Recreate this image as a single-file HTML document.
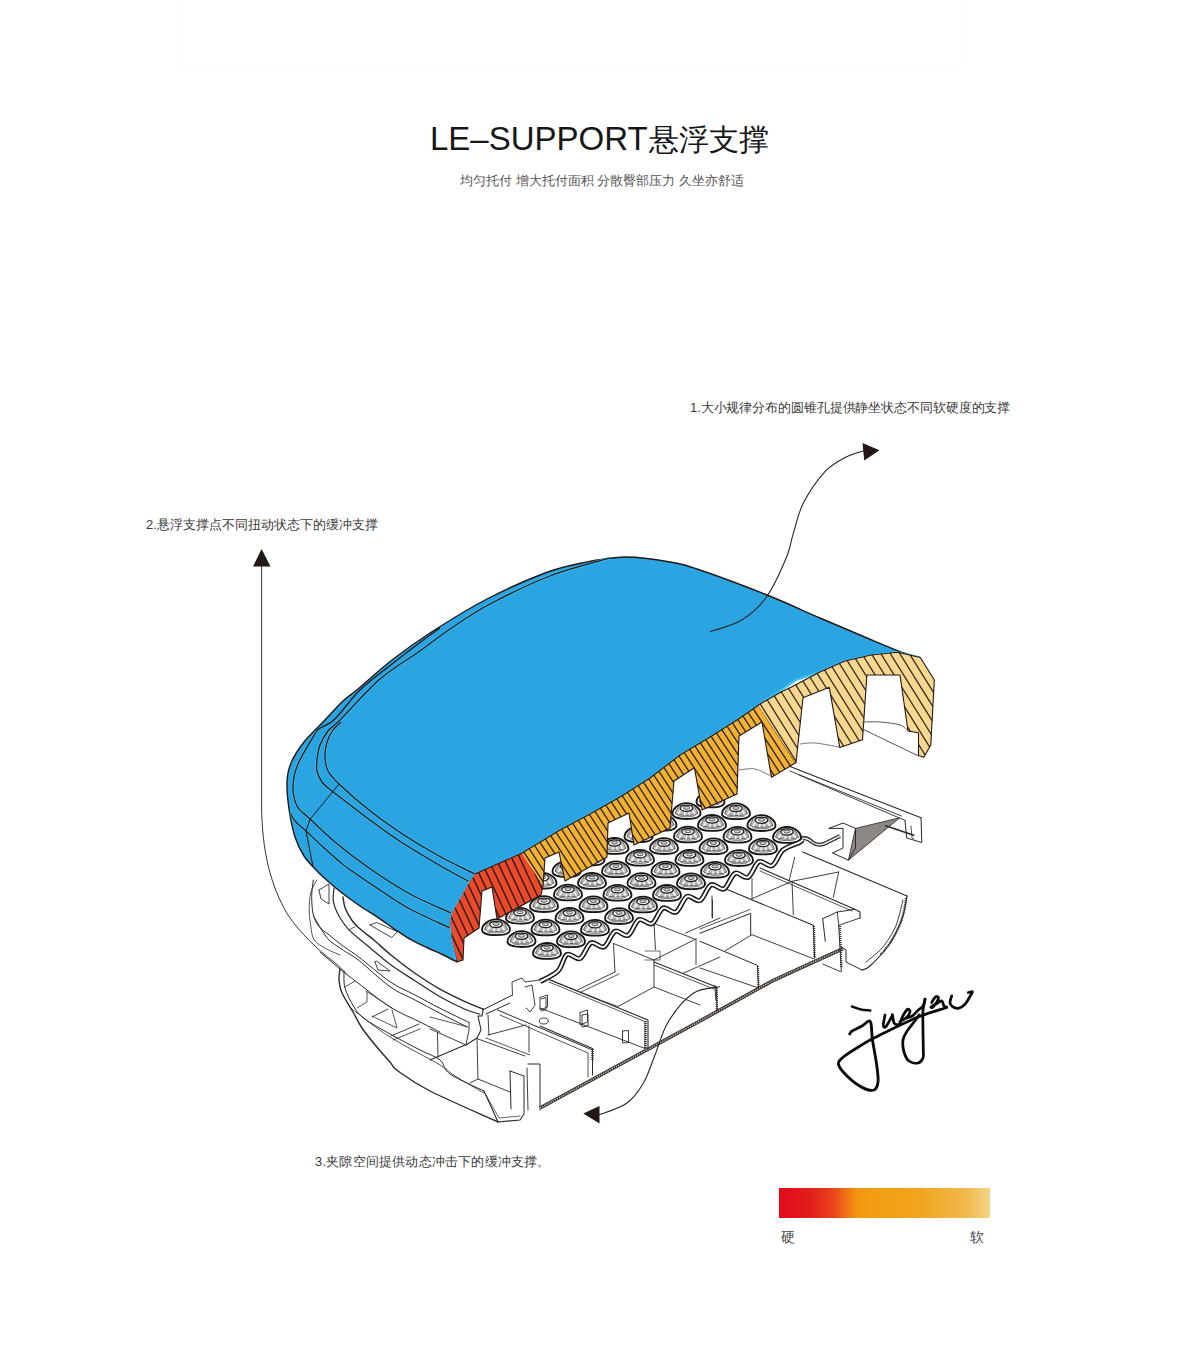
<!DOCTYPE html>
<html><head><meta charset="utf-8">
<style>
html,body{margin:0;padding:0;background:#fff;}
body{width:1200px;height:1358px;position:relative;overflow:hidden;font-family:"Liberation Sans",sans-serif;}
.t{position:absolute;white-space:nowrap;line-height:1;}
#topbox{position:absolute;left:180px;top:-2px;width:781px;height:66px;border:1px solid #fbfbfb;}
#title{left:430px;top:122px;font-size:33px;color:#161616;}
#sub{left:460px;top:174px;font-size:13px;color:#555;}
#a1{left:690px;top:401px;font-size:13px;letter-spacing:-0.1px;color:#3a3a3a;}
#a2{left:146px;top:518px;font-size:13px;color:#3a3a3a;}
#a3{left:315px;top:1155px;font-size:13px;letter-spacing:0.2px;color:#3a3a3a;}
#bar{position:absolute;left:779px;top:1188px;width:211px;height:30px;background:linear-gradient(to right,#e2091a 0%,#e41e1b 15%,#e8451a 26%,#ee7414 32%,#f2950f 37%,#f39c10 42%,#f1a41c 65%,#f0b84a 88%,#f4d586 100%);}
#hard{left:781px;top:1230px;font-size:14px;color:#444;}
#soft{left:970px;top:1230px;font-size:14px;color:#444;}
svg{position:absolute;left:0;top:0;}
</style></head><body>
<div id="topbox"></div>
<div class="t" id="title">LE–SUPPORT<span style="font-size:30px;position:relative;left:1px">悬浮支撑</span></div>
<div class="t" id="sub">均匀托付 增大托付面积 分散臀部压力 久坐亦舒适</div>
<div class="t" id="a1">1.大小规律分布的圆锥孔提供静坐状态不同软硬度的支撑</div>
<div class="t" id="a2">2.悬浮支撑点不同扭动状态下的缓冲支撑</div>
<div class="t" id="a3">3.夹隙空间提供动态冲击下的缓冲支撑。</div>
<div id="bar"></div>
<div class="t" id="hard">硬</div>
<div class="t" id="soft">软</div>
<svg width="1200" height="1358" viewBox="0 0 1200 1358">
<path d="M316.7,880.0 C315.7,882.1 312.1,887.6 310.8,892.5 C309.6,897.4 309.2,903.7 309.2,909.2 C309.2,914.8 310.0,920.7 310.8,925.8 C311.6,930.9 311.6,936.1 314.2,940.0 C316.8,943.9 322.4,946.5 326.7,949.0 C331.0,951.5 337.8,954.0 340.0,955.0" fill="none" stroke="#2f2826" stroke-width="0.8" stroke-linejoin="round" stroke-linecap="round" />
<path d="M343.0,897.0 C343.3,898.8 343.6,903.7 345.0,907.5 C346.4,911.3 349.5,916.7 351.7,920.0 C353.9,923.3 354.4,924.0 358.3,927.5 C362.2,931.0 369.6,936.4 375.0,941.0 C380.4,945.6 384.3,949.6 391.0,955.0 C397.7,960.4 406.8,967.6 415.0,973.3 C423.2,979.0 431.7,984.5 440.0,989.2 C448.3,993.9 457.8,998.4 465.0,1001.7 C472.2,1005.0 480.2,1008.0 483.3,1009.2" fill="none" stroke="#2f2826" stroke-width="1.4" stroke-linejoin="round" stroke-linecap="round" />
<path d="M334.0,888.0 C333.9,890.1 332.7,896.6 333.3,900.8 C333.9,905.0 335.0,908.6 337.5,913.3 C340.0,918.0 343.4,923.9 348.3,929.2 C353.2,934.5 359.8,939.2 366.7,945.0 C373.6,950.8 381.9,958.2 390.0,964.2 C398.1,970.2 406.7,975.4 415.0,980.8 C423.3,986.2 431.7,992.0 440.0,996.7 C448.3,1001.4 458.3,1006.3 465.0,1009.2 C471.7,1012.1 477.5,1013.4 480.0,1014.2" fill="none" stroke="#2f2826" stroke-width="1.2" stroke-linejoin="round" stroke-linecap="round" />
<path d="M313.3,880.0 C313.0,882.8 311.7,890.9 311.7,896.7 C311.7,902.5 312.1,910.0 313.3,915.0 C314.6,920.0 316.6,923.4 319.2,926.7 C321.8,930.0 325.4,932.0 329.2,935.0 C332.9,938.0 336.8,941.4 341.7,945.0 C346.6,948.6 350.2,950.6 358.3,956.7 C366.4,962.8 380.6,975.3 390.0,981.7 C399.4,988.1 406.7,990.6 415.0,995.0 C423.3,999.4 431.0,1003.7 440.0,1008.3 C449.0,1012.9 464.3,1020.1 469.2,1022.5" fill="none" stroke="#2f2826" stroke-width="1.0" stroke-linejoin="round" stroke-linecap="round" />
<path d="M314.0,917.0 C316.2,920.5 322.9,932.9 327.5,938.3 C332.1,943.7 336.6,945.6 341.7,949.2 C346.8,952.8 350.2,953.8 358.3,960.0 C366.4,966.2 380.6,980.0 390.0,986.7 C399.4,993.4 406.7,995.6 415.0,1000.0 C423.3,1004.4 431.4,1008.8 440.0,1013.3 C448.6,1017.8 462.2,1024.5 466.7,1026.7" fill="none" stroke="#2f2826" stroke-width="1.0" stroke-linejoin="round" stroke-linecap="round" />
<path d="M349.0,930.0 L355.0,926.7" fill="none" stroke="#2f2826" stroke-width="0.8" stroke-linejoin="round" stroke-linecap="round" />
<path d="M483.3,1009.2 L482.0,1016.0 L478.0,1016.0 L480.0,1025.0 L481.0,1030.0 L477.0,1038.0 L466.0,1045.0" fill="none" stroke="#2f2826" stroke-width="1.1" stroke-linejoin="round" stroke-linecap="round" />
<path d="M469.2,1022.5 L469.0,1030.0 L466.0,1045.0" fill="none" stroke="#2f2826" stroke-width="0.9" stroke-linejoin="round" stroke-linecap="round" />
<path d="M320.0,952.0 C323.3,954.8 333.7,963.8 340.0,969.0 C346.3,974.2 349.7,976.7 358.0,983.0 C366.3,989.3 379.7,1000.5 390.0,1007.0 C400.3,1013.5 411.7,1017.8 420.0,1022.0 C428.3,1026.2 436.7,1030.3 440.0,1032.0" fill="none" stroke="#2f2826" stroke-width="1.0" stroke-linejoin="round" stroke-linecap="round" />
<path d="M340.0,969.0 C339.8,970.8 338.7,976.0 339.0,980.0 C339.3,984.0 339.7,987.7 342.0,993.0 C344.3,998.3 349.7,1006.2 353.0,1012.0 C356.3,1017.8 358.2,1022.3 362.0,1028.0 C365.8,1033.7 371.3,1040.3 376.0,1046.0 C380.7,1051.7 386.3,1057.8 390.0,1062.0 C393.7,1066.2 391.3,1066.2 398.0,1071.0 C404.7,1075.8 413.3,1082.5 430.0,1091.0 C446.7,1099.5 486.7,1116.8 498.0,1122.0" fill="none" stroke="#2f2826" stroke-width="1.4" stroke-linejoin="round" stroke-linecap="round" />
<path d="M344.0,971.0 C344.2,973.8 343.3,982.0 345.0,988.0 C346.7,994.0 350.7,1001.8 354.0,1007.0 C357.3,1012.2 359.0,1014.5 365.0,1019.0 C371.0,1023.5 380.8,1028.8 390.0,1034.0 C399.2,1039.2 411.7,1045.7 420.0,1050.0 C428.3,1054.3 435.0,1056.0 440.0,1060.0 C445.0,1064.0 442.7,1068.8 450.0,1074.0 C457.3,1079.2 478.3,1088.2 484.0,1091.0" fill="none" stroke="#2f2826" stroke-width="1.0" stroke-linejoin="round" stroke-linecap="round" />
<path d="M352.0,1009.0 C358.3,1013.7 375.3,1027.7 390.0,1037.0 C404.7,1046.3 429.2,1058.5 440.0,1065.0 C450.8,1071.5 447.7,1071.3 455.0,1076.0 C462.3,1080.7 479.2,1090.2 484.0,1093.0" fill="none" stroke="#2f2826" stroke-width="0.8" stroke-linejoin="round" stroke-linecap="round" />
<path d="M484.0,1091.0 L498.0,1122.0 L520.0,1120.0 L524.0,1114.0" fill="none" stroke="#2f2826" stroke-width="1.1" stroke-linejoin="round" stroke-linecap="round" />
<path d="M486.0,1095.0 L499.0,1118.0 L520.0,1116.0" fill="none" stroke="#2f2826" stroke-width="0.7" stroke-linejoin="round" stroke-linecap="round" />
<path d="M319.0,890.0 L329.0,884.0 L329.0,904.0 L321.0,899.0 L319.0,890.0" fill="none" stroke="#2f2826" stroke-width="0.9" stroke-linejoin="round" stroke-linecap="round" />
<path d="M375.0,962.0 L376.5,961.0 L390.0,971.0 L378.0,970.0 L375.0,962.0" fill="none" stroke="#2f2826" stroke-width="0.9" stroke-linejoin="round" stroke-linecap="round" />
<path d="M370.0,925.0 L376.7,922.5 L397.5,931.7 L391.7,937.5 L370.0,925.0" fill="none" stroke="#2f2826" stroke-width="0.9" stroke-linejoin="round" stroke-linecap="round" />
<path d="M345.0,987.0 L355.0,981.0" fill="none" stroke="#2f2826" stroke-width="0.8" stroke-linejoin="round" stroke-linecap="round" />
<path d="M367.0,992.0 L367.0,1002.0 L357.0,1008.0" fill="none" stroke="#2f2826" stroke-width="0.8" stroke-linejoin="round" stroke-linecap="round" />
<path d="M366.0,991.0 L392.0,1008.0" fill="none" stroke="#2f2826" stroke-width="0.8" stroke-linejoin="round" stroke-linecap="round" />
<path d="M372.0,1017.0 L388.0,1009.0" fill="none" stroke="#2f2826" stroke-width="0.9" stroke-linejoin="round" stroke-linecap="round" />
<path d="M372.0,1016.0 L397.0,1028.0 L392.0,1010.0" fill="none" stroke="#2f2826" stroke-width="0.8" stroke-linejoin="round" stroke-linecap="round" />
<path d="M391.0,1036.0 L419.0,1024.0" fill="none" stroke="#2f2826" stroke-width="0.9" stroke-linejoin="round" stroke-linecap="round" />
<path d="M393.0,1040.0 L420.0,1029.0" fill="none" stroke="#2f2826" stroke-width="0.8" stroke-linejoin="round" stroke-linecap="round" />
<path d="M437.5,1033.0 L438.0,1057.0" fill="none" stroke="#2f2826" stroke-width="0.9" stroke-linejoin="round" stroke-linecap="round" />
<path d="M430.0,1060.0 L465.0,1045.0" fill="none" stroke="#2f2826" stroke-width="1.1" stroke-linejoin="round" stroke-linecap="round" />
<path d="M430.0,1029.0 L466.0,1045.0" fill="none" stroke="#2f2826" stroke-width="0.9" stroke-linejoin="round" stroke-linecap="round" />
<path d="M430.0,1017.0 L468.0,1027.0" fill="none" stroke="#2f2826" stroke-width="0.8" stroke-linejoin="round" stroke-linecap="round" />
<path d="M477.0,1038.0 L478.0,1079.0" fill="none" stroke="#2f2826" stroke-width="0.9" stroke-linejoin="round" stroke-linecap="round" />
<path d="M470.0,1083.0 L478.0,1079.0 L510.0,1092.0" fill="none" stroke="#2f2826" stroke-width="0.9" stroke-linejoin="round" stroke-linecap="round" />
<path d="M478.0,1039.0 L525.0,1056.0" fill="none" stroke="#2f2826" stroke-width="0.9" stroke-linejoin="round" stroke-linecap="round" />
<path d="M486.0,1038.0 L530.0,1055.0" fill="none" stroke="#2f2826" stroke-width="0.8" stroke-linejoin="round" stroke-linecap="round" />
<path d="M488.0,1035.0 L526.0,1025.0" fill="none" stroke="#2f2826" stroke-width="0.9" stroke-linejoin="round" stroke-linecap="round" />
<path d="M486.0,1014.0 L510.0,1003.0" fill="none" stroke="#2f2826" stroke-width="1.0" stroke-linejoin="round" stroke-linecap="round" />
<path d="M488.0,1015.0 L489.0,1035.0" fill="none" stroke="#2f2826" stroke-width="0.9" stroke-linejoin="round" stroke-linecap="round" />
<path d="M529.0,1026.0 L529.0,1052.0" fill="none" stroke="#2f2826" stroke-width="0.9" stroke-linejoin="round" stroke-linecap="round" />
<path d="M510.0,1071.0 L524.0,1076.0 L524.0,1113.0" fill="none" stroke="#2f2826" stroke-width="1.0" stroke-linejoin="round" stroke-linecap="round" />
<path d="M510.0,1071.0 L511.0,1109.0" fill="none" stroke="#2f2826" stroke-width="1.0" stroke-linejoin="round" stroke-linecap="round" />
<path d="M528.0,1064.0 L540.0,1064.0 L540.0,1110.0" fill="none" stroke="#2f2826" stroke-width="1.0" stroke-linejoin="round" stroke-linecap="round" />
<path d="M527.0,1068.0 L528.0,1110.0" fill="none" stroke="#2f2826" stroke-width="0.9" stroke-linejoin="round" stroke-linecap="round" />
<path d="M482.5,1010.0 L512.5,995.0" fill="none" stroke="#2f2826" stroke-width="1.0" stroke-linejoin="round" stroke-linecap="round" />
<path d="M497.5,1010.0 L592.5,1050.0 L592.5,1075.0" fill="none" stroke="#2f2826" stroke-width="1.0" stroke-linejoin="round" stroke-linecap="round" />
<path d="M500.0,1015.0 L588.0,1053.0 L588.0,1077.0" fill="none" stroke="#2f2826" stroke-width="0.8" stroke-linejoin="round" stroke-linecap="round" />
<path d="M540.0,980.0 L525.0,982.0 L522.0,978.0 L512.0,982.0 L512.5,995.0" fill="none" stroke="#2f2826" stroke-width="0.9" stroke-linejoin="round" stroke-linecap="round" />
<path d="M525.0,987.0 L532.0,985.0 L535.0,1005.0 L530.0,1012.0 L526.0,1008.0" fill="none" stroke="#2f2826" stroke-width="0.9" stroke-linejoin="round" stroke-linecap="round" />
<path d="M540.0,997.5 L547.5,995.0 L547.5,1007.0 L540.0,1010.0 L540.0,997.5" fill="none" stroke="#2f2826" stroke-width="0.9" stroke-linejoin="round" stroke-linecap="round" />
<path d="M580.0,1012.5 L587.5,1010.0 L587.5,1022.0 L580.0,1025.0 L580.0,1012.5" fill="none" stroke="#2f2826" stroke-width="0.9" stroke-linejoin="round" stroke-linecap="round" />
<ellipse cx="543.75" cy="1021" rx="4.5" ry="3" fill="none" stroke="#2f2826" stroke-width="0.9"/>
<path d="M550.0,980.0 L600.0,1000.0" fill="none" stroke="#2f2826" stroke-width="0.9" stroke-linejoin="round" stroke-linecap="round" />
<path d="M540,1108 L700,1021 L774,980 L843,948.6" fill="none" stroke="#3b3431" stroke-width="3.6"/>
<path d="M540,1108 L700,1021 L774,980 L843,948.6" fill="none" stroke="#cfcac7" stroke-width="1.4" stroke-dasharray="1.2 1.2"/>
<path d="M549.0,979.5 L648.0,1020.0 L648.0,1048.5" fill="none" stroke="#2f2826" stroke-width="1.1" stroke-linejoin="round" stroke-linecap="round" />
<path d="M549.0,982.0 L645.0,1021.5 L645.0,1048.5" fill="none" stroke="#2f2826" stroke-width="0.8" stroke-linejoin="round" stroke-linecap="round" />
<path d="M645.5,1021 L645.5,1048" stroke="#3b3431" stroke-width="2.6" stroke-dasharray="1 1" fill="none"/>
<path d="M541.5,999.0 L546.0,997.5 L546.0,1009.5 L541.5,1011.0" fill="none" stroke="#2f2826" stroke-width="0.9" stroke-linejoin="round" stroke-linecap="round" />
<path d="M582.0,1015.0 L588.0,1014.0 L588.0,1026.0 L582.0,1027.0 L582.0,1015.0" fill="none" stroke="#2f2826" stroke-width="0.9" stroke-linejoin="round" stroke-linecap="round" />
<path d="M622.5,1031.0 L628.5,1030.5 L628.5,1042.5 L622.5,1043.0 L622.5,1031.0" fill="none" stroke="#2f2826" stroke-width="0.9" stroke-linejoin="round" stroke-linecap="round" />
<path d="M540.0,1008.0 L645.0,1048.5" fill="none" stroke="#2f2826" stroke-width="0.9" stroke-linejoin="round" stroke-linecap="round" />
<path d="M540.0,1026.0 L592.5,1048.5 L592.5,1059.0" fill="none" stroke="#2f2826" stroke-width="1.1" stroke-linejoin="round" stroke-linecap="round" />
<path d="M592.5,1049 L592.5,1060" stroke="#3b3431" stroke-width="2.6" stroke-dasharray="1 1" fill="none"/>
<path d="M577.5,990.0 L615.0,972.0" fill="none" stroke="#2f2826" stroke-width="0.9" stroke-linejoin="round" stroke-linecap="round" />
<path d="M581.0,992.0 L619.0,974.0" fill="none" stroke="#2f2826" stroke-width="0.8" stroke-linejoin="round" stroke-linecap="round" />
<path d="M615.0,972.0 L613.5,943.5" fill="none" stroke="#2f2826" stroke-width="0.9" stroke-linejoin="round" stroke-linecap="round" />
<path d="M613.5,943.5 L654.0,960.0 L654.0,987.0 L618.0,1006.5" fill="none" stroke="#2f2826" stroke-width="0.9" stroke-linejoin="round" stroke-linecap="round" />
<path d="M654.0,987.0 L700.0,1005.0" fill="none" stroke="#2f2826" stroke-width="0.9" stroke-linejoin="round" stroke-linecap="round" />
<path d="M654.0,960.0 L696.0,939.0" fill="none" stroke="#2f2826" stroke-width="0.9" stroke-linejoin="round" stroke-linecap="round" />
<path d="M654.0,962.0 L716.5,987.0 L717.0,1011.0" fill="none" stroke="#2f2826" stroke-width="1.1" stroke-linejoin="round" stroke-linecap="round" />
<path d="M654.0,965.0 L714.0,989.0" fill="none" stroke="#2f2826" stroke-width="0.8" stroke-linejoin="round" stroke-linecap="round" />
<path d="M716.5,988 L717,1011" stroke="#3b3431" stroke-width="2.4" stroke-dasharray="1 1" fill="none"/>
<path d="M654.0,924.0 L655.5,949.5" fill="none" stroke="#2f2826" stroke-width="0.9" stroke-linejoin="round" stroke-linecap="round" />
<path d="M655.5,924.0 L694.5,939.0" fill="none" stroke="#2f2826" stroke-width="0.9" stroke-linejoin="round" stroke-linecap="round" />
<path d="M696.0,939.0 L696.0,964.5" fill="none" stroke="#2f2826" stroke-width="0.9" stroke-linejoin="round" stroke-linecap="round" />
<path d="M682.5,973.5 L720.0,957.0" fill="none" stroke="#2f2826" stroke-width="0.9" stroke-linejoin="round" stroke-linecap="round" />
<path d="M685.5,933.0 L720.0,918.0" fill="none" stroke="#2f2826" stroke-width="0.9" stroke-linejoin="round" stroke-linecap="round" />
<path d="M712.5,900.0 L712.5,918.0" fill="none" stroke="#2f2826" stroke-width="0.9" stroke-linejoin="round" stroke-linecap="round" />
<path d="M645.0,951.0 L660.0,951.0 L660.0,960.0 L645.0,960.0" fill="none" stroke="#2f2826" stroke-width="0.7" stroke-linejoin="round" stroke-linecap="round" />
<path d="M600.0,1000.0 L618.0,1006.5" fill="none" stroke="#2f2826" stroke-width="0.8" stroke-linejoin="round" stroke-linecap="round" />
<path d="M802.7,852.0 L907.0,896.0" fill="none" stroke="#2f2826" stroke-width="1.2" stroke-linejoin="round" stroke-linecap="round" />
<path d="M907.0,896.0 C906.5,898.7 905.2,907.3 904.0,912.0 C902.8,916.7 902.7,918.3 900.0,924.0 C897.3,929.7 893.0,939.0 888.0,946.0 C883.0,953.0 874.3,962.0 870.0,966.0 C865.7,970.0 863.3,969.3 862.0,970.0" fill="none" stroke="#2f2826" stroke-width="1.2" stroke-linejoin="round" stroke-linecap="round" />
<path d="M903.0,900.0 C902.3,902.7 900.5,911.0 899.0,916.0 C897.5,921.0 896.8,924.7 894.0,930.0 C891.2,935.3 886.7,942.7 882.0,948.0 C877.3,953.3 868.7,959.7 866.0,962.0" fill="none" stroke="#2f2826" stroke-width="0.9" stroke-linejoin="round" stroke-linecap="round" />
<path d="M906,898 C904,920 895,940 880,955" stroke="#3b3431" stroke-width="2.4" stroke-dasharray="1 1" fill="none"/>
<path d="M862.0,970.0 L846.0,962.0 L846.0,950.0 L841.3,946.7" fill="none" stroke="#2f2826" stroke-width="1.0" stroke-linejoin="round" stroke-linecap="round" />
<path d="M760.0,868.0 L854.7,909.3 L860.0,912.0 L860.0,918.0" fill="none" stroke="#2f2826" stroke-width="1.1" stroke-linejoin="round" stroke-linecap="round" />
<path d="M760.0,871.0 L852.0,911.0" fill="none" stroke="#2f2826" stroke-width="0.8" stroke-linejoin="round" stroke-linecap="round" />
<path d="M726.7,889.3 L813.3,925.3 L814.7,958.7" fill="none" stroke="#2f2826" stroke-width="1.1" stroke-linejoin="round" stroke-linecap="round" />
<path d="M814,926 L814.5,958" stroke="#3b3431" stroke-width="2.4" stroke-dasharray="1 1" fill="none"/>
<path d="M712.0,896.0 L712.0,917.3" fill="none" stroke="#2f2826" stroke-width="0.9" stroke-linejoin="round" stroke-linecap="round" />
<path d="M752.0,878.7 L752.0,898.7" fill="none" stroke="#2f2826" stroke-width="0.9" stroke-linejoin="round" stroke-linecap="round" />
<path d="M794.7,857.3 L789.3,880.0" fill="none" stroke="#2f2826" stroke-width="0.9" stroke-linejoin="round" stroke-linecap="round" />
<path d="M792.0,881.3 L793.3,914.7" fill="none" stroke="#2f2826" stroke-width="0.9" stroke-linejoin="round" stroke-linecap="round" />
<path d="M838.7,872.0 L833.3,897.3" fill="none" stroke="#2f2826" stroke-width="0.9" stroke-linejoin="round" stroke-linecap="round" />
<path d="M752.0,898.7 L792.0,881.3 L838.7,872.0" fill="none" stroke="#2f2826" stroke-width="0.9" stroke-linejoin="round" stroke-linecap="round" />
<path d="M700.0,933.3 L750.7,913.3 L750.7,934.7" fill="none" stroke="#2f2826" stroke-width="1.0" stroke-linejoin="round" stroke-linecap="round" />
<path d="M700.0,929.0 L750.0,909.5" fill="none" stroke="#2f2826" stroke-width="0.8" stroke-linejoin="round" stroke-linecap="round" />
<path d="M725.3,950.7 L752.0,934.7 L813.3,958.7" fill="none" stroke="#2f2826" stroke-width="0.9" stroke-linejoin="round" stroke-linecap="round" />
<path d="M700.0,941.3 L757.3,965.3 L758.7,988.0" fill="none" stroke="#2f2826" stroke-width="1.0" stroke-linejoin="round" stroke-linecap="round" />
<path d="M758,966 L758.5,988" stroke="#3b3431" stroke-width="2.2" stroke-dasharray="1 1" fill="none"/>
<path d="M700.0,968.0 L758.7,988.0" fill="none" stroke="#2f2826" stroke-width="0.9" stroke-linejoin="round" stroke-linecap="round" />
<path d="M822.7,918.7 L837.3,912.0 L854.7,909.3" fill="none" stroke="#2f2826" stroke-width="1.0" stroke-linejoin="round" stroke-linecap="round" />
<path d="M822.7,918.7 L825.3,941.3" fill="none" stroke="#2f2826" stroke-width="1.0" stroke-linejoin="round" stroke-linecap="round" />
<path d="M838.7,925.3 L841.3,970.7" fill="none" stroke="#2f2826" stroke-width="1.0" stroke-linejoin="round" stroke-linecap="round" />
<path d="M840,926 L841.5,968" stroke="#3b3431" stroke-width="2.2" stroke-dasharray="1 1" fill="none"/>
<path d="M837.3,912.0 L838.7,925.3 L860.0,918.0" fill="none" stroke="#2f2826" stroke-width="0.9" stroke-linejoin="round" stroke-linecap="round" />
<path d="M822.7,964.0 L841.3,972.0" fill="none" stroke="#2f2826" stroke-width="0.9" stroke-linejoin="round" stroke-linecap="round" />
<path d="M714.7,985.3 L716.0,1000.0" fill="none" stroke="#2f2826" stroke-width="0.9" stroke-linejoin="round" stroke-linecap="round" />
<path d="M790.0,766.5 L921.0,817.8" fill="none" stroke="#2f2826" stroke-width="1.2" stroke-linejoin="round" stroke-linecap="round" />
<path d="M790.0,771.0 L901.4,816.0" fill="none" stroke="#2f2826" stroke-width="0.9" stroke-linejoin="round" stroke-linecap="round" />
<path d="M799.0,775.0 L905.0,820.4" fill="none" stroke="#2f2826" stroke-width="0.9" stroke-linejoin="round" stroke-linecap="round" />
<path d="M921.0,817.8 L921.8,842.5 L906.7,838.0 L905.0,820.4" fill="none" stroke="#2f2826" stroke-width="1.0" stroke-linejoin="round" stroke-linecap="round" />
<path d="M911.0,826.0 L912.0,838.0 L914.0,839.0" fill="none" stroke="#2f2826" stroke-width="0.8" stroke-linejoin="round" stroke-linecap="round" />
<path d="M855.5,828.4 L899.7,817.8 L848.4,860.2Z" fill="#8d8886" stroke="#3b3431" stroke-width="0.9"/>
<path d="M829.0,828.4 L843.0,823.0 L855.5,828.4 L855.5,848.0 L848.4,860.2 L832.5,853.0 L843.0,848.0 L843.0,828.4 L829.0,828.4" fill="none" stroke="#2f2826" stroke-width="1.0" stroke-linejoin="round" stroke-linecap="round" />
<path d="M885.7,825.8 L913.7,835.2" fill="none" stroke="#2f2826" stroke-width="1.6" stroke-linejoin="round" stroke-linecap="round" />
<path d="M795,843 C800,838 806,836 812,842 C816,845 820,846 826,843 L840,836" fill="none" stroke="#2f2826" stroke-width="4" stroke-linejoin="round"/>
<path d="M795,843 C800,838 806,836 812,842 C816,845 820,846 826,843 L840,836" fill="none" stroke="#e8e6e5" stroke-width="1.5" stroke-linejoin="round"/>
<defs><g id="dm"><path d="M-14,2.8 C-14,6.6 -7.5,8.2 0,8.2 C7.5,8.2 14,6.6 14,2.8 C14,-1.5 8.5,-7.6 0,-7.6 C-8.5,-7.6 -14,-1.5 -14,2.8Z" fill="#fff" stroke="#1a1614" stroke-width="1.8"/><path d="M-11.5,2.6 C-10,-1 -8,-4.8 -6.5,-5.3 L6.5,-5.3 C8,-4.8 10,-1 11.5,2.6 C8,5.2 -8,5.2 -11.5,2.6Z" fill="#bdb9b6" stroke="#3a3533" stroke-width="0.8"/><path d="M-8.5,3.6 L-4.5,-3 M8.5,3.6 L4.5,-3 M-2,4.6 L-1,-1.5 M3,4.4 L2,-1.5" stroke="#f8f8f8" stroke-width="1.5"/><path d="M-9,4.8 C-4,6.4 4,6.4 9,4.8" fill="none" stroke="#555" stroke-width="0.8"/><ellipse cx="0" cy="-2.6" rx="6.2" ry="3.1" fill="#fff" stroke="#1e1a18" stroke-width="1.3"/><ellipse cx="0" cy="-3" rx="3.2" ry="1.5" fill="#cfcfcf" stroke="#333" stroke-width="0.8"/></g></defs>
<use href="#dm" x="710.5" y="799.2"/>
<use href="#dm" x="686.5" y="810.8"/>
<use href="#dm" x="736.0" y="811.0"/>
<use href="#dm" x="662.5" y="822.4"/>
<use href="#dm" x="712.0" y="822.6"/>
<use href="#dm" x="761.5" y="822.8"/>
<use href="#dm" x="638.5" y="834.0"/>
<use href="#dm" x="688.0" y="834.2"/>
<use href="#dm" x="737.5" y="834.4"/>
<use href="#dm" x="787.0" y="834.6"/>
<use href="#dm" x="614.5" y="845.6"/>
<use href="#dm" x="664.0" y="845.8"/>
<use href="#dm" x="713.5" y="846.0"/>
<use href="#dm" x="763.0" y="846.2"/>
<use href="#dm" x="590.5" y="857.2"/>
<use href="#dm" x="640.0" y="857.4"/>
<use href="#dm" x="689.5" y="857.6"/>
<use href="#dm" x="739.0" y="857.8"/>
<use href="#dm" x="566.5" y="868.8"/>
<use href="#dm" x="616.0" y="869.0"/>
<use href="#dm" x="665.5" y="869.2"/>
<use href="#dm" x="715.0" y="869.4"/>
<use href="#dm" x="542.5" y="880.4"/>
<use href="#dm" x="592.0" y="880.6"/>
<use href="#dm" x="641.5" y="880.8"/>
<use href="#dm" x="691.0" y="881.0"/>
<use href="#dm" x="518.5" y="892.0"/>
<use href="#dm" x="568.0" y="892.2"/>
<use href="#dm" x="617.5" y="892.4"/>
<use href="#dm" x="667.0" y="892.6"/>
<use href="#dm" x="544.0" y="903.8"/>
<use href="#dm" x="593.5" y="904.0"/>
<use href="#dm" x="643.0" y="904.2"/>
<use href="#dm" x="520.0" y="915.4"/>
<use href="#dm" x="569.5" y="915.6"/>
<use href="#dm" x="619.0" y="915.8"/>
<use href="#dm" x="496.0" y="927.0"/>
<use href="#dm" x="545.5" y="927.2"/>
<use href="#dm" x="595.0" y="927.4"/>
<use href="#dm" x="521.5" y="938.8"/>
<use href="#dm" x="571.0" y="939.0"/>
<use href="#dm" x="547.0" y="950.6"/>
<path d="M540.0,981.5 C543.0,979.8 553.5,975.5 558.0,971.0 C562.5,966.5 563.3,956.6 567.0,954.5 C570.7,952.4 576.0,960.4 580.0,958.5 C584.0,956.6 587.0,944.8 591.0,942.9 C595.0,941.0 600.0,948.8 604.0,946.9 C608.0,945.0 611.0,933.2 615.0,931.3 C619.0,929.4 624.0,937.2 628.0,935.3 C632.0,933.4 635.0,921.6 639.0,919.7 C643.0,917.8 648.0,925.6 652.0,923.7 C656.0,921.8 659.0,910.0 663.0,908.1 C667.0,906.2 672.0,914.0 676.0,912.1 C680.0,910.2 683.0,898.4 687.0,896.5 C691.0,894.6 696.0,902.4 700.0,900.5 C704.0,898.6 707.0,886.8 711.0,884.9 C715.0,883.0 720.0,890.8 724.0,888.9 C728.0,887.0 731.0,875.2 735.0,873.3 C739.0,871.4 744.0,879.2 748.0,877.3 C752.0,875.4 755.0,863.6 759.0,861.7 C763.0,859.8 768.0,867.6 772.0,865.7 C776.0,863.8 778.5,853.9 783.0,850.1 C787.5,846.2 795.7,844.3 799.0,842.6 C802.3,840.8 802.3,840.1 803.0,839.6" fill="none" stroke="#1e1a18" stroke-width="5.2" stroke-linejoin="round"/>
<path d="M540.0,981.5 C543.0,979.8 553.5,975.5 558.0,971.0 C562.5,966.5 563.3,956.6 567.0,954.5 C570.7,952.4 576.0,960.4 580.0,958.5 C584.0,956.6 587.0,944.8 591.0,942.9 C595.0,941.0 600.0,948.8 604.0,946.9 C608.0,945.0 611.0,933.2 615.0,931.3 C619.0,929.4 624.0,937.2 628.0,935.3 C632.0,933.4 635.0,921.6 639.0,919.7 C643.0,917.8 648.0,925.6 652.0,923.7 C656.0,921.8 659.0,910.0 663.0,908.1 C667.0,906.2 672.0,914.0 676.0,912.1 C680.0,910.2 683.0,898.4 687.0,896.5 C691.0,894.6 696.0,902.4 700.0,900.5 C704.0,898.6 707.0,886.8 711.0,884.9 C715.0,883.0 720.0,890.8 724.0,888.9 C728.0,887.0 731.0,875.2 735.0,873.3 C739.0,871.4 744.0,879.2 748.0,877.3 C752.0,875.4 755.0,863.6 759.0,861.7 C763.0,859.8 768.0,867.6 772.0,865.7 C776.0,863.8 778.5,853.9 783.0,850.1 C787.5,846.2 795.7,844.3 799.0,842.6 C802.3,840.8 802.3,840.1 803.0,839.6" fill="none" stroke="#fff" stroke-width="2" stroke-linejoin="round"/>
<path d="M457.0,962.0 C454.7,960.8 448.4,957.4 443.3,955.0 C438.2,952.6 432.2,950.1 426.7,947.5 C421.1,944.9 415.6,942.4 410.0,939.2 C404.4,936.0 398.9,932.0 393.3,928.3 C387.8,924.5 382.2,920.4 376.7,916.7 C371.1,913.0 365.8,910.0 360.0,906.0 C354.2,902.0 347.0,896.8 342.0,893.0 C337.0,889.2 334.2,886.7 330.0,883.0 C325.8,879.3 321.3,875.5 317.0,871.0 C312.7,866.5 307.7,861.7 304.0,856.0 C300.3,850.3 297.5,844.8 295.0,837.0 C292.5,829.2 290.3,818.2 289.0,809.0 C287.7,799.8 286.7,789.7 287.0,782.0 C287.3,774.3 288.2,769.7 291.0,763.0 C293.8,756.3 298.5,749.0 304.0,742.0 C309.5,735.0 317.5,727.8 324.0,721.0 C330.5,714.2 337.3,706.3 343.0,701.0 C348.7,695.7 349.8,695.8 358.0,689.0 C366.2,682.2 380.0,669.3 392.0,660.0 C404.0,650.7 414.2,643.2 430.0,633.0 C445.8,622.8 467.8,609.0 487.0,599.0 C506.2,589.0 529.2,579.0 545.0,573.0 C560.8,567.0 568.7,565.7 582.0,563.0 C595.3,560.3 610.3,557.2 625.0,557.0 C639.7,556.8 657.5,559.8 670.0,562.0 C682.5,564.2 683.8,564.5 700.0,570.0 C716.2,575.5 747.0,587.0 767.0,595.0 C787.0,603.0 803.3,610.8 820.0,618.0 C836.7,625.2 853.0,632.2 867.0,638.0 C881.0,643.8 895.2,649.8 904.0,653.0 C912.8,656.2 917.3,656.8 920.0,657.5 L897.5,652.3 L871.3,655.0 L845.0,661.0 L818.8,672.4 L796.0,680.0 L780.0,691.0 L760.0,704.0 L740.0,718.0 L710.0,737.0 L680.0,755.0 L650.0,778.0 L620.0,797.0 L590.0,814.0 L560.0,830.0 L522.0,853.0 L474.8,874.0 L469.0,881.5 L451.3,913.0 L449.8,921.0 L451.3,940.0 L457.0,962.0Z" fill="#2ba5e1" stroke="none"/>
<path d="M457.0,962.0 C454.7,960.8 448.4,957.4 443.3,955.0 C438.2,952.6 432.2,950.1 426.7,947.5 C421.1,944.9 415.6,942.4 410.0,939.2 C404.4,936.0 398.9,932.0 393.3,928.3 C387.8,924.5 382.2,920.4 376.7,916.7 C371.1,913.0 365.8,910.0 360.0,906.0 C354.2,902.0 347.0,896.8 342.0,893.0 C337.0,889.2 334.2,886.7 330.0,883.0 C325.8,879.3 321.3,875.5 317.0,871.0 C312.7,866.5 307.7,861.7 304.0,856.0 C300.3,850.3 297.5,844.8 295.0,837.0 C292.5,829.2 290.3,818.2 289.0,809.0 C287.7,799.8 286.7,789.7 287.0,782.0 C287.3,774.3 288.2,769.7 291.0,763.0 C293.8,756.3 298.5,749.0 304.0,742.0 C309.5,735.0 317.5,727.8 324.0,721.0 C330.5,714.2 337.3,706.3 343.0,701.0 C348.7,695.7 349.8,695.8 358.0,689.0 C366.2,682.2 380.0,669.3 392.0,660.0 C404.0,650.7 414.2,643.2 430.0,633.0 C445.8,622.8 467.8,609.0 487.0,599.0 C506.2,589.0 529.2,579.0 545.0,573.0 C560.8,567.0 568.7,565.7 582.0,563.0 C595.3,560.3 610.3,557.2 625.0,557.0 C639.7,556.8 657.5,559.8 670.0,562.0 C682.5,564.2 683.8,564.5 700.0,570.0 C716.2,575.5 747.0,587.0 767.0,595.0 C787.0,603.0 803.3,610.8 820.0,618.0 C836.7,625.2 853.0,632.2 867.0,638.0 C881.0,643.8 895.2,649.8 904.0,653.0 C912.8,656.2 917.3,656.8 920.0,657.5" fill="none" stroke="#231815" stroke-width="1.4"/>
<path d="M920.0,657.5 L897.5,652.3 L871.3,655.0 L845.0,661.0 L818.8,672.4 L796.0,680.0 L780.0,691.0 L760.0,704.0 L740.0,718.0 L710.0,737.0 L680.0,755.0 L650.0,778.0 L620.0,797.0 L590.0,814.0 L560.0,830.0 L522.0,853.0 L474.8,874.0" fill="none" stroke="#45c4f5" stroke-width="2.2"/>
<path d="M440.0,628.0 C436.3,630.7 426.0,638.0 418.0,644.0 C410.0,650.0 401.7,656.3 392.0,664.0 C382.3,671.7 369.5,680.8 360.0,690.0 C350.5,699.2 341.3,712.8 335.0,719.0 C328.7,725.2 325.2,725.0 322.0,727.0 C318.8,729.0 317.0,730.3 316.0,731.0" fill="none" stroke="#231815" stroke-width="1.3"/>
<path d="M610.0,558.0 C600.0,561.0 570.0,568.3 550.0,576.0 C530.0,583.7 506.7,595.2 490.0,604.0 C473.3,612.8 461.7,621.2 450.0,629.0 C438.3,636.8 431.7,642.7 420.0,651.0 C408.3,659.3 393.3,667.5 380.0,679.0 C366.7,690.5 348.7,711.3 340.0,720.0 C331.3,728.7 331.3,726.8 328.0,731.0 C324.7,735.2 321.8,740.2 320.0,745.0 C318.2,749.8 317.5,755.7 317.0,760.0 C316.5,764.3 316.2,767.3 317.0,771.0 C317.8,774.7 319.5,778.7 322.0,782.0 C324.5,785.3 325.3,785.7 332.0,791.0 C338.7,796.3 351.0,805.8 362.0,814.0 C373.0,822.2 385.2,831.5 398.0,840.0 C410.8,848.5 427.2,858.1 439.0,865.0 C450.8,871.9 464.0,878.8 469.0,881.5" fill="none" stroke="#47c6f7" stroke-width="2.6" opacity="0.8"/>
<path d="M610.0,558.0 C600.0,561.0 570.0,568.3 550.0,576.0 C530.0,583.7 506.7,595.2 490.0,604.0 C473.3,612.8 461.7,621.2 450.0,629.0 C438.3,636.8 431.7,642.7 420.0,651.0 C408.3,659.3 393.3,667.5 380.0,679.0 C366.7,690.5 348.7,711.3 340.0,720.0 C331.3,728.7 331.3,726.8 328.0,731.0 C324.7,735.2 321.8,740.2 320.0,745.0 C318.2,749.8 317.5,755.7 317.0,760.0 C316.5,764.3 316.2,767.3 317.0,771.0 C317.8,774.7 319.5,778.7 322.0,782.0 C324.5,785.3 325.3,785.7 332.0,791.0 C338.7,796.3 351.0,805.8 362.0,814.0 C373.0,822.2 385.2,831.5 398.0,840.0 C410.8,848.5 427.2,858.1 439.0,865.0 C450.8,871.9 464.0,878.8 469.0,881.5" fill="none" stroke="#231815" stroke-width="1.3"/>
<path d="M341.0,722.0 C339.7,723.3 335.3,726.7 333.0,730.0 C330.7,733.3 328.3,737.5 327.0,742.0 C325.7,746.5 324.8,752.2 325.0,757.0 C325.2,761.8 325.7,766.5 328.0,771.0 C330.3,775.5 332.2,777.5 339.0,784.0 C345.8,790.5 358.2,801.5 369.0,810.0 C379.8,818.5 392.3,827.3 404.0,835.0 C415.7,842.7 427.2,849.5 439.0,856.0 C450.8,862.5 468.8,871.0 474.8,874.0" fill="none" stroke="#47c6f7" stroke-width="2.6" opacity="0.8"/>
<path d="M341.0,722.0 C339.7,723.3 335.3,726.7 333.0,730.0 C330.7,733.3 328.3,737.5 327.0,742.0 C325.7,746.5 324.8,752.2 325.0,757.0 C325.2,761.8 325.7,766.5 328.0,771.0 C330.3,775.5 332.2,777.5 339.0,784.0 C345.8,790.5 358.2,801.5 369.0,810.0 C379.8,818.5 392.3,827.3 404.0,835.0 C415.7,842.7 427.2,849.5 439.0,856.0 C450.8,862.5 468.8,871.0 474.8,874.0" fill="none" stroke="#231815" stroke-width="1.3"/>
<path d="M317.0,730.5 C313.8,736.1 302.0,754.8 298.0,764.0 C294.0,773.2 293.2,779.0 293.0,786.0 C292.8,793.0 294.2,800.5 297.0,806.0 C299.8,811.5 303.7,813.0 310.0,819.0 C316.3,825.0 325.2,833.8 335.0,842.0 C344.8,850.2 356.5,859.3 369.0,868.0 C381.5,876.7 396.3,886.5 410.0,894.0 C423.7,901.5 444.2,909.8 451.0,913.0" fill="none" stroke="#47c6f7" stroke-width="2.6" opacity="0.8"/>
<path d="M317.0,730.5 C313.8,736.1 302.0,754.8 298.0,764.0 C294.0,773.2 293.2,779.0 293.0,786.0 C292.8,793.0 294.2,800.5 297.0,806.0 C299.8,811.5 303.7,813.0 310.0,819.0 C316.3,825.0 325.2,833.8 335.0,842.0 C344.8,850.2 356.5,859.3 369.0,868.0 C381.5,876.7 396.3,886.5 410.0,894.0 C423.7,901.5 444.2,909.8 451.0,913.0" fill="none" stroke="#231815" stroke-width="1.3"/>
<path d="M290.0,813.0 C291.0,814.5 293.3,819.0 296.0,822.0 C298.7,825.0 301.7,827.0 306.0,831.0 C310.3,835.0 316.3,840.8 322.0,846.0 C327.7,851.2 335.5,858.2 340.0,862.0 C344.5,865.8 342.3,864.3 349.0,869.0 C355.7,873.7 369.8,883.3 380.0,890.0 C390.2,896.7 398.3,902.7 410.0,909.0 C421.7,915.3 443.3,924.8 450.0,928.0" fill="none" stroke="#47c6f7" stroke-width="2.6" opacity="0.8"/>
<path d="M290.0,813.0 C291.0,814.5 293.3,819.0 296.0,822.0 C298.7,825.0 301.7,827.0 306.0,831.0 C310.3,835.0 316.3,840.8 322.0,846.0 C327.7,851.2 335.5,858.2 340.0,862.0 C344.5,865.8 342.3,864.3 349.0,869.0 C355.7,873.7 369.8,883.3 380.0,890.0 C390.2,896.7 398.3,902.7 410.0,909.0 C421.7,915.3 443.3,924.8 450.0,928.0" fill="none" stroke="#231815" stroke-width="1.3"/>
<path d="M339.4,783.6 L310,819.4 L306,831 L312.9,866" fill="none" stroke="#231815" stroke-width="1"/>
<defs><clipPath id="csclip"><path d="M474.8,874.0 L522.0,853.0 L560.0,830.0 L590.0,814.0 L620.0,797.0 L650.0,778.0 L680.0,755.0 L710.0,737.0 L740.0,718.0 L760.0,704.0 L780.0,692.5 L792.5,686.4 L818.8,672.4 L845.0,661.0 L871.3,655.0 L897.5,652.3 L920.3,657.5 L934.3,680.0 L930.8,745.0 L923.8,757.3 L918.5,755.5 L918.5,732.8 L908.0,731.0 L900.0,675.0 L866.9,675.0 L862.5,739.8 L839.8,747.6 L829.3,687.3 L803.0,697.8 L796.0,762.5 L771.5,777.4 L762.0,722.0 L739.0,736.0 L737.0,794.0 L702.0,810.0 L694.4,767.8 L674.0,781.0 L670.0,828.0 L634.0,845.0 L629.0,813.0 L608.0,823.0 L607.0,857.0 L565.0,881.0 L559.0,852.0 L545.0,858.0 L543.0,886.0 L541.0,895.0 L497.0,919.0 L492.0,887.0 L482.0,891.0 L479.0,928.0 L464.0,938.0 L463.0,960.0 L457.0,962.0 L451.3,940.0 L449.8,921.0 L451.3,913.0 L469.0,881.5Z"/></clipPath><clipPath id="redc"><path d="M459,754 L522,853 L543,886 L617,1002 L300,1002 L300,754Z"/></clipPath><clipPath id="orgc"><path d="M459,754 L617,1002 L952,1002 L796,763 L758,705 L692,604Z"/></clipPath><clipPath id="ylwc"><path d="M692,604 L758,705 L796,763 L952,1002 L1000,1002 L1000,500 L692,500Z"/></clipPath></defs>
<g clip-path="url(#csclip)">
<g clip-path="url(#redc)"><rect x="440" y="840" width="120" height="130" fill="#ea4a2c"/><path d="M239.4,840 L300.0,970 M247.4,840 L308.0,970 M255.4,840 L316.0,970 M263.4,840 L324.0,970 M271.4,840 L332.0,970 M279.4,840 L340.0,970 M287.4,840 L348.0,970 M295.4,840 L356.0,970 M303.4,840 L364.0,970 M311.4,840 L372.0,970 M319.4,840 L380.0,970 M327.4,840 L388.0,970 M335.4,840 L396.0,970 M343.4,840 L404.0,970 M351.4,840 L412.0,970 M359.4,840 L420.0,970 M367.4,840 L428.0,970 M375.4,840 L436.0,970 M383.4,840 L444.0,970 M391.4,840 L452.0,970 M399.4,840 L460.0,970 M407.4,840 L468.0,970 M415.4,840 L476.0,970 M423.4,840 L484.0,970 M431.4,840 L492.0,970 M439.4,840 L500.0,970 M447.4,840 L508.0,970 M455.4,840 L516.0,970 M463.4,840 L524.0,970 M471.4,840 L532.0,970 M479.4,840 L540.0,970 M487.4,840 L548.0,970 M495.4,840 L556.0,970 M503.4,840 L564.0,970 M511.4,840 L572.0,970 M519.4,840 L580.0,970 M527.4,840 L588.0,970 M535.4,840 L596.0,970 M543.4,840 L604.0,970 M551.4,840 L612.0,970 M559.4,840 L620.0,970 M567.4,840 L628.0,970 M575.4,840 L636.0,970 M583.4,840 L644.0,970 M591.4,840 L652.0,970 M599.4,840 L660.0,970 " stroke="#2e1a12" stroke-width="1.4" fill="none"/></g>
<g clip-path="url(#orgc)"><rect x="500" y="660" width="320" height="240" fill="#f0b135"/><path d="M324.1,660 L480.0,900 M331.6,660 L487.5,900 M339.1,660 L495.0,900 M346.6,660 L502.5,900 M354.1,660 L510.0,900 M361.6,660 L517.5,900 M369.1,660 L525.0,900 M376.6,660 L532.5,900 M384.1,660 L540.0,900 M391.6,660 L547.5,900 M399.1,660 L555.0,900 M406.6,660 L562.5,900 M414.1,660 L570.0,900 M421.6,660 L577.5,900 M429.1,660 L585.0,900 M436.6,660 L592.5,900 M444.1,660 L600.0,900 M451.6,660 L607.5,900 M459.1,660 L615.0,900 M466.6,660 L622.5,900 M474.1,660 L630.0,900 M481.6,660 L637.5,900 M489.1,660 L645.0,900 M496.6,660 L652.5,900 M504.1,660 L660.0,900 M511.6,660 L667.5,900 M519.1,660 L675.0,900 M526.6,660 L682.5,900 M534.1,660 L690.0,900 M541.6,660 L697.5,900 M549.1,660 L705.0,900 M556.6,660 L712.5,900 M564.1,660 L720.0,900 M571.6,660 L727.5,900 M579.1,660 L735.0,900 M586.6,660 L742.5,900 M594.1,660 L750.0,900 M601.6,660 L757.5,900 M609.1,660 L765.0,900 M616.6,660 L772.5,900 M624.1,660 L780.0,900 M631.6,660 L787.5,900 M639.1,660 L795.0,900 M646.6,660 L802.5,900 M654.1,660 L810.0,900 M661.6,660 L817.5,900 M669.1,660 L825.0,900 M676.6,660 L832.5,900 M684.1,660 L840.0,900 M691.6,660 L847.5,900 M699.1,660 L855.0,900 M706.6,660 L862.5,900 M714.1,660 L870.0,900 M721.6,660 L877.5,900 M729.1,660 L885.0,900 M736.6,660 L892.5,900 M744.1,660 L900.0,900 M751.6,660 L907.5,900 M759.1,660 L915.0,900 M766.6,660 L922.5,900 M774.1,660 L930.0,900 M781.6,660 L937.5,900 M789.1,660 L945.0,900 M796.6,660 L952.5,900 M804.1,660 L960.0,900 M811.6,660 L967.5,900 M819.1,660 L975.0,900 M826.6,660 L982.5,900 " stroke="#2e2012" stroke-width="1.3" fill="none"/></g>
<g clip-path="url(#ylwc)"><rect x="740" y="640" width="200" height="140" fill="#f8d891"/><path d="M606.3,640 L700.0,790 M615.8,640 L709.5,790 M625.3,640 L719.0,790 M634.8,640 L728.5,790 M644.3,640 L738.0,790 M653.8,640 L747.5,790 M663.3,640 L757.0,790 M672.8,640 L766.5,790 M682.3,640 L776.0,790 M691.8,640 L785.5,790 M701.3,640 L795.0,790 M710.8,640 L804.5,790 M720.3,640 L814.0,790 M729.8,640 L823.5,790 M739.3,640 L833.0,790 M748.8,640 L842.5,790 M758.3,640 L852.0,790 M767.8,640 L861.5,790 M777.3,640 L871.0,790 M786.8,640 L880.5,790 M796.3,640 L890.0,790 M805.8,640 L899.5,790 M815.3,640 L909.0,790 M824.8,640 L918.5,790 M834.3,640 L928.0,790 M843.8,640 L937.5,790 M853.3,640 L947.0,790 M862.8,640 L956.5,790 M872.3,640 L966.0,790 M881.8,640 L975.5,790 M891.3,640 L985.0,790 M900.8,640 L994.5,790 M910.3,640 L1004.0,790 M919.8,640 L1013.5,790 M929.3,640 L1023.0,790 M938.8,640 L1032.5,790 M948.3,640 L1042.0,790 M957.8,640 L1051.5,790 " stroke="#3a2a1a" stroke-width="1.3" fill="none"/></g>
</g>
<path d="M474.8,874.0 L522.0,853.0 L560.0,830.0 L590.0,814.0 L620.0,797.0 L650.0,778.0 L680.0,755.0 L710.0,737.0 L740.0,718.0 L760.0,704.0 L780.0,692.5 L792.5,686.4 L818.8,672.4 L845.0,661.0 L871.3,655.0 L897.5,652.3 L920.3,657.5 L934.3,680.0 L930.8,745.0 L923.8,757.3 L918.5,755.5 L918.5,732.8 L908.0,731.0 L900.0,675.0 L866.9,675.0 L862.5,739.8 L839.8,747.6 L829.3,687.3 L803.0,697.8 L796.0,762.5 L771.5,777.4 L762.0,722.0 L739.0,736.0 L737.0,794.0 L702.0,810.0 L694.4,767.8 L674.0,781.0 L670.0,828.0 L634.0,845.0 L629.0,813.0 L608.0,823.0 L607.0,857.0 L565.0,881.0 L559.0,852.0 L545.0,858.0 L543.0,886.0 L541.0,895.0 L497.0,919.0 L492.0,887.0 L482.0,891.0 L479.0,928.0 L464.0,938.0 L463.0,960.0 L457.0,962.0 L451.3,940.0 L449.8,921.0 L451.3,913.0 L469.0,881.5Z" fill="none" stroke="#231815" stroke-width="1.1" stroke-linejoin="round"/>
<path d="M474.8,874 L469,881.5 L451.3,913 L449.8,921 L451.3,940 L456,960" fill="none" stroke="#3fc3f5" stroke-width="1.2"/>
<path d="M862.5,722.0 C865.4,722.0 873.8,721.5 880.0,722.0 C886.2,722.5 895.3,723.5 900.0,725.0 C904.7,726.5 906.7,730.0 908.0,731.0" fill="none" stroke="#555" stroke-width="1"/>
<path d="M862.5,729 L918.5,756" fill="none" stroke="#555" stroke-width="1"/>
<path d="M739.0,770.0 C741.7,769.8 749.7,768.0 755.0,769.0 C760.3,770.0 768.3,774.8 771.0,776.0" fill="none" stroke="#666" stroke-width="0.9"/>
<path d="M800.0,744.0 C802.5,743.8 808.5,742.5 815.0,743.0 C821.5,743.5 835.0,746.3 839.0,747.0" fill="none" stroke="#666" stroke-width="0.9"/>
<path d="M710.0,631.7 C715.3,629.8 732.2,625.8 741.7,620.0 C751.2,614.2 759.2,607.2 766.7,596.7 C774.2,586.2 782.3,567.3 786.7,556.7 C791.1,546.1 790.5,542.2 793.3,533.3 C796.1,524.4 798.0,513.6 803.3,503.3 C808.6,493.0 817.8,479.5 825.0,471.7 C832.2,463.9 840.0,460.2 846.7,456.7 C853.4,453.2 862.0,451.5 865.0,450.5" fill="none" stroke="#2a2523" stroke-width="1.1"/>
<path d="M862.5,443 L879.5,450.3 L864.2,460.5Z" fill="#231815"/>
<path d="M261.6,566 L261.6,806 C262,850 270,885 288,915 C300,933 318,950 334,962 C340,967 344,971 347,975" fill="none" stroke="#3a3330" stroke-width="1"/>
<path d="M261.6,549 L270.5,566.5 L253,566.5Z" fill="#231815"/>
<path d="M720.0,986.7 C715.5,987.8 701.9,987.5 693.3,993.3 C684.7,999.1 674.7,1011.4 668.3,1021.7 C661.9,1032.0 659.2,1044.7 655.0,1055.0 C650.8,1065.3 648.0,1075.2 643.3,1083.3 C638.6,1091.3 634.1,1098.0 626.7,1103.3 C619.3,1108.6 603.6,1113.0 599.0,1115.0" fill="none" stroke="#2a2523" stroke-width="1.1"/>
<path d="M583.3,1113.5 L599.5,1106 L599.5,1123.5Z" fill="#231815"/>
<path d="M852.0,1006.5 C853.5,1007.0 858.0,1008.8 861.0,1009.5 C864.0,1010.2 868.8,1010.3 870.3,1010.5" fill="none" stroke="#0d0b0a" stroke-width="2.5" stroke-linecap="round" stroke-linejoin="round"/>
<path d="M849.7,1034.0 C850.1,1033.5 850.0,1032.3 852.0,1031.0 C854.0,1029.7 859.0,1027.6 862.0,1026.0 C865.0,1024.4 868.6,1019.2 870.3,1021.5 C872.0,1023.8 871.3,1032.2 872.4,1039.5 C873.5,1046.8 875.8,1057.9 876.7,1065.0 C877.6,1072.1 878.5,1077.8 878.0,1082.0 C877.5,1086.2 876.6,1089.1 874.0,1090.0 C871.4,1090.9 867.0,1089.9 862.5,1087.6 C858.0,1085.3 851.0,1079.9 847.0,1076.0 C843.0,1072.1 838.9,1067.2 838.4,1064.0 C837.9,1060.8 840.4,1059.5 844.0,1056.5 C847.6,1053.5 854.8,1049.2 860.0,1046.0 C865.2,1042.8 865.5,1042.2 875.0,1037.5 C884.5,1032.8 904.8,1022.5 916.7,1017.5 C928.7,1012.5 941.7,1009.2 946.7,1007.5" fill="none" stroke="#0d0b0a" stroke-width="2.875" stroke-linecap="round" stroke-linejoin="round"/>
<path d="M885.0,1015.0 C884.7,1016.8 883.1,1023.6 883.3,1025.5 C883.5,1027.4 884.6,1028.0 886.0,1026.5 C887.4,1025.0 890.6,1018.6 891.7,1016.7 C892.8,1014.8 892.1,1013.9 892.5,1015.0 C892.9,1016.1 893.1,1021.8 894.2,1023.3 C895.3,1024.8 897.8,1025.3 899.2,1024.2 C900.6,1023.1 901.2,1019.1 902.5,1016.7 C903.8,1014.3 905.7,1011.2 906.7,1010.0 C907.7,1008.8 907.8,1008.9 908.3,1009.2 C908.8,1009.5 910.3,1010.3 910.0,1011.7 C909.7,1013.1 908.4,1015.8 906.7,1017.5 C905.0,1019.2 901.1,1021.0 900.0,1021.7" fill="none" stroke="#0d0b0a" stroke-width="2.75" stroke-linecap="round" stroke-linejoin="round"/>
<path d="M906.0,1018.0 C907.1,1017.6 910.5,1017.1 912.5,1015.8 C914.5,1014.5 916.5,1011.7 918.3,1010.0 C920.1,1008.3 922.2,1007.6 923.3,1005.8 C924.4,1004.0 924.7,1000.3 925.0,999.2" fill="none" stroke="#0d0b0a" stroke-width="2.75" stroke-linecap="round" stroke-linejoin="round"/>
<path d="M925.0,999.2 C924.7,1001.0 923.4,1006.0 923.0,1010.0 C922.6,1014.0 922.9,1016.6 922.9,1023.3 C922.9,1030.0 923.3,1044.2 923.3,1050.0 C923.3,1055.8 923.9,1055.8 923.0,1058.0 C922.1,1060.2 920.3,1062.5 918.0,1063.0 C915.7,1063.5 911.3,1062.8 909.0,1061.0 C906.7,1059.2 905.0,1055.5 904.0,1052.0 C903.0,1048.5 902.5,1043.4 903.0,1040.0 C903.5,1036.6 904.7,1034.9 906.7,1031.7 C908.7,1028.5 913.0,1023.6 915.0,1020.8 C917.0,1018.0 918.3,1016.0 919.0,1015.0" fill="none" stroke="#0d0b0a" stroke-width="2.75" stroke-linecap="round" stroke-linejoin="round"/>
<path d="M931.7,1002.5 C932.2,1001.7 934.0,998.5 935.0,997.5 C936.0,996.5 937.0,996.4 937.5,996.7 C938.0,997.0 939.0,997.5 938.3,999.2 C937.6,1000.9 934.5,1005.4 933.3,1006.7 C932.1,1008.0 930.5,1007.5 931.0,1007.0 C931.5,1006.5 934.2,1005.0 936.0,1004.0 C937.8,1003.0 940.4,1000.5 941.7,1000.8 C943.0,1001.1 943.2,1005.0 944.0,1006.0 C944.8,1007.0 946.1,1006.8 946.5,1007.0" fill="none" stroke="#0d0b0a" stroke-width="2.75" stroke-linecap="round" stroke-linejoin="round"/>
<path d="M951.7,995.8 C951.4,996.9 949.9,1000.7 950.0,1002.5 C950.1,1004.3 951.1,1005.7 952.5,1006.7 C953.9,1007.7 956.2,1008.7 958.3,1008.3 C960.4,1007.9 962.9,1006.4 965.0,1004.2 C967.1,1002.0 969.5,997.1 970.8,995.0 C972.0,992.9 972.9,992.1 972.5,991.7 C972.1,991.3 969.0,992.4 968.3,992.5" fill="none" stroke="#0d0b0a" stroke-width="2.75" stroke-linecap="round" stroke-linejoin="round"/>
</svg>
</body></html>
